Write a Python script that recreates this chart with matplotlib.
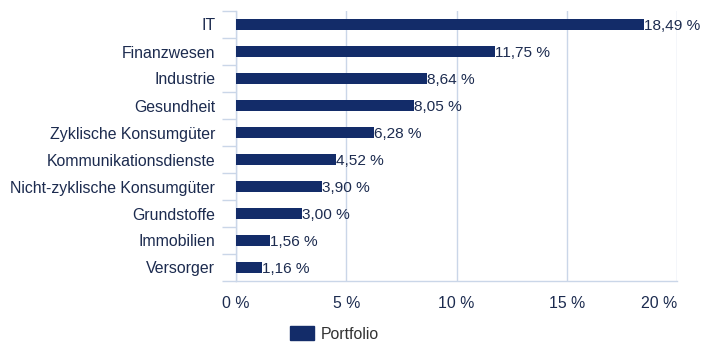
import matplotlib.pyplot as plt
from matplotlib.patches import Patch

# sector weights of the portfolio, in percent
sectors = ["IT", "Finanzwesen", "Industrie", "Gesundheit", "Zyklische Konsumgüter",
           "Kommunikationsdienste", "Nicht-zyklische Konsumgüter", "Grundstoffe",
           "Immobilien", "Versorger"]
weights = [18.49, 11.75, 8.64, 8.05, 6.28, 4.52, 3.90, 3.00, 1.56, 1.16]
x_ticks = [0, 5, 10, 15, 20]

navy = "#132c69"
text_col = "#1c2b4f"
grid_col = "#cad6e8"
fs = 11.4

plt.rcParams["font.family"] = ["Liberation Sans", "DejaVu Sans"]
plt.rcParams["font.size"] = fs

fig = plt.figure(figsize=(7.01, 3.42), dpi=100)
ax = fig.add_axes([236 / 701, 1 - 281 / 342, (677 - 236) / 701, (281 - 11) / 342])

pos = list(range(len(sectors)))
ax.barh(pos, weights, height=0.42, color=navy, zorder=3)
for y, w in zip(pos, weights):
    ax.text(w, y + 0.07, "{:.2f} %".format(w).replace(".", ","),
            va="center", ha="left", color=text_col, fontsize=11.1, zorder=4)

ax.set_ylim(len(sectors) - 0.5, -0.5)
ax.set_xlim(0, 20)
ax.set_yticks(pos)
ax.set_yticklabels(sectors, color=text_col)
ax.set_yticks([p - 0.5 for p in pos] + [len(sectors) - 0.5], minor=True)
ax.tick_params(axis="y", which="major", length=0, pad=15)
ax.tick_params(axis="y", which="minor", length=10, width=1, color=grid_col)

ax.set_xticks(x_ticks)
ax.set_xticklabels(["{} %".format(t) for t in x_ticks], color=text_col)
ax.tick_params(axis="x", length=0, pad=11)
# last tick label kept inside the plot area
ax.get_xticklabels()[-1].set_horizontalalignment("right")
ax.grid(axis="x", color=grid_col, linewidth=1, zorder=0)

for s in ["top", "right"]:
    ax.spines[s].set_visible(False)
for s in ["left", "bottom"]:
    ax.spines[s].set_color(grid_col)
    ax.spines[s].set_linewidth(1)

fig.legend(handles=[Patch(color=navy, label="Portfolio")], loc="center left",
           bbox_to_anchor=(290 / 701, 1 - 334 / 342), frameon=False,
           borderpad=0, borderaxespad=0, handlelength=1.5, handleheight=0.9,
           handletextpad=0.45, labelcolor="#333333", fontsize=fs)

fig.savefig("out.png", dpi=100)
